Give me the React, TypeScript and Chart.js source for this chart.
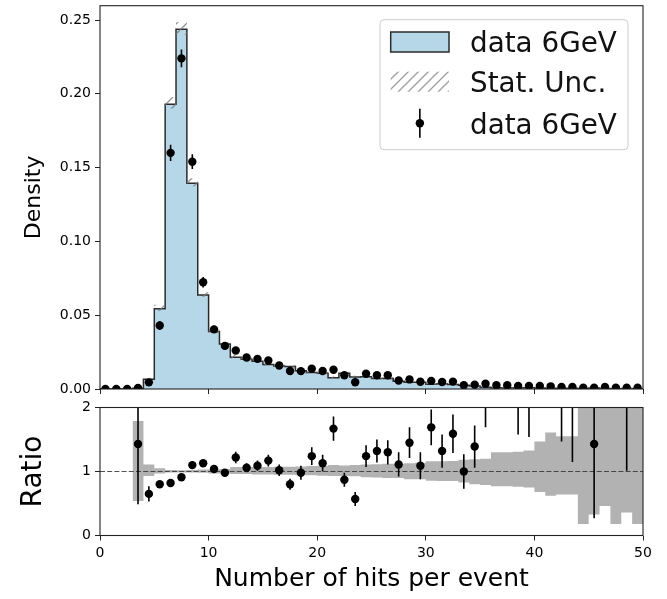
import React, { useEffect, useRef } from 'react';
import { Chart, registerables } from 'chart.js';

Chart.register(...registerables);

const FONT = "'DejaVu Sans', 'Liberation Sans', sans-serif";

// Histogram of hits per event: 50 unit-wide bins from 0 to 50 (density)
const histDensity = [
  0, 0, 0, 0.0005, 0.0066, 0.0544, 0.1929, 0.2437, 0.1394, 0.0637,
  0.039, 0.0305, 0.0215, 0.0201, 0.0188, 0.0166, 0.0155, 0.0152, 0.0123, 0.0111,
  0.0107, 0.0077, 0.0107, 0.0082, 0.0083, 0.0071, 0.0071, 0.0053, 0.0045, 0.0046,
  0.0033, 0.0036, 0.0031, 0.0025, 0.0021, 0.0012, 0.0009, 0.0009, 0.0008, 0.0008,
  0.0006, 0.0005, 0.0005, 0.0005, 0.0002, 0.0006, 0.0003, 0.0002, 0.0003, 0.0002,
];

// Data points drawn at bin centres, with their errors
const dataDensity = [
  0, 0, 0, 0.0007, 0.0045, 0.043, 0.16, 0.224, 0.154, 0.0723,
  0.0404, 0.0292, 0.0261, 0.0213, 0.0204, 0.0193, 0.0159, 0.0122, 0.0121, 0.0138,
  0.0122, 0.013, 0.0093, 0.0046, 0.0103, 0.0093, 0.0093, 0.0058, 0.0065, 0.0049,
  0.0055, 0.0047, 0.005, 0.0025, 0.0029, 0.0036, 0.0025, 0.0025, 0.002, 0.002,
  0.002, 0.0018, 0.0014, 0.0014, 0.0009, 0.0009, 0.0014, 0.0009, 0.0009, 0.0009,
];
const dataErr = [
  0, 0, 0, 0.0005, 0.0012, 0.003, 0.0055, 0.006, 0.005, 0.0035,
  0.0025, 0.002, 0.002, 0.0015, 0.0015, 0.0015, 0.0013, 0.0012, 0.0012, 0.0013,
  0.0012, 0.0013, 0.001, 0.0007, 0.0012, 0.0012, 0.0012, 0.001, 0.0011, 0.0009,
  0.0009, 0.0009, 0.0009, 0.0007, 0.0007, 0.0008, 0.0007, 0.0007, 0.0006, 0.0006,
  0.0006, 0.0006, 0.0005, 0.0005, 0.0004, 0.0004, 0.0005, 0.0004, 0.0004, 0.0004,
];

// Ratio panel: data / histogram per bin (null where undefined)
const ratioValue = [
  null, null, null, 1.43, 0.65, 0.8, 0.82, 0.91, 1.1, 1.13,
  1.04, 0.98, 1.22, 1.06, 1.09, 1.17, 1.02, 0.8, 0.98, 1.24,
  1.13, 1.67, 0.87, 0.57, 1.24, 1.32, 1.3, 1.11, 1.45, 1.09,
  1.69, 1.32, 1.59, 1.0, 1.39, 2.9, null, null, 2.6, 2.6,
  null, null, 3.0, 3.0, null, 1.43, null, null, 3.0, null,
];
const ratioErr = [
  0, 0, 0, 0.94, 0.12, 0.05, 0.05, 0.04, 0.04, 0.05,
  0.05, 0.05, 0.09, 0.07, 0.08, 0.09, 0.09, 0.085, 0.11, 0.14,
  0.13, 0.19, 0.11, 0.11, 0.17, 0.18, 0.19, 0.19, 0.24, 0.21,
  0.28, 0.26, 0.3, 0.27, 0.33, 1.21, 0, 0, 1.02, 1.06,
  0, 0, 1.53, 1.85, 0, 1.16, 0, 0, 1.99, 0,
];

// Relative statistical uncertainty of the histogram (upper / lower edge)
const uncHigh = [
  null, null, null, 1.79, 1.11, 1.05, 1.025, 1.02, 1.025, 1.03,
  1.03, 1.04, 1.07, 1.07, 1.07, 1.07, 1.075, 1.075, 1.08, 1.085,
  1.09, 1.1, 1.095, 1.1, 1.11, 1.115, 1.12, 1.12, 1.13, 1.135,
  1.16, 1.16, 1.165, 1.185, 1.19, 1.2, 1.3, 1.3, 1.31, 1.33,
  1.47, 1.61, 1.55, 1.55, 2.6, 2.6, 2.6, 2.6, 2.6, 2.6,
];
const uncLow = [
  null, null, null, 0.54, 0.93, 0.97, 0.985, 0.985, 0.985, 0.98,
  0.97, 0.97, 0.96, 0.96, 0.955, 0.955, 0.95, 0.95, 0.94, 0.94,
  0.935, 0.93, 0.93, 0.925, 0.91, 0.905, 0.9, 0.9, 0.88, 0.88,
  0.855, 0.85, 0.85, 0.83, 0.8, 0.79, 0.77, 0.77, 0.76, 0.75,
  0.68, 0.62, 0.64, 0.64, 0.18, 0.33, 0.46, 0.18, 0.36, 0.18,
];

const xTicks = [0, 10, 20, 30, 40, 50];
const densityTicks = [0, 0.05, 0.1, 0.15, 0.2, 0.25];
const ratioTicks = [0, 1, 2];
const legendLabels = ['data 6GeV', 'Stat. Unc.', 'data 6GeV'];

const HIST_FILL = 'rgb(182,215,231)';
const HIST_EDGE = '#2b2b2b';
const BAND_GREY = 'rgb(178,178,178)';

// Step outline points: left edge of each bin, closed at x = 50
function stepPoints(values: (number | null)[], from = 0) {
  const pts: { x: number; y: number | null }[] = [];
  for (let i = from; i < values.length; i++) pts.push({ x: i, y: values[i] });
  pts.push({ x: values.length, y: values[values.length - 1] });
  return pts;
}

function makeHatch(ctx: CanvasRenderingContext2D, color: string) {
  const c = document.createElement('canvas');
  c.width = 10;
  c.height = 10;
  const g = c.getContext('2d')!;
  g.strokeStyle = color;
  g.lineWidth = 1.3;
  g.beginPath();
  g.moveTo(-2, 12);
  g.lineTo(12, -2);
  g.moveTo(-2, 2);
  g.lineTo(2, -2);
  g.moveTo(8, 12);
  g.lineTo(12, 8);
  g.stroke();
  return ctx.createPattern(c, 'repeat')!;
}

const framePlugin = {
  id: 'frame',
  afterDatasetsDraw(chart: any) {
    const { ctx, chartArea: a } = chart;
    ctx.save();
    ctx.strokeStyle = '#222';
    ctx.lineWidth = 1.1;
    ctx.strokeRect(a.left, a.top, a.right - a.left, a.bottom - a.top);
    ctx.restore();
  },
};

const errorBarPlugin = {
  id: 'errorBars',
  beforeDatasetDraw(chart: any, args: any) {
    const ds = chart.data.datasets[args.index];
    if (!ds.errors) return;
    const xs = chart.scales.x;
    const ys = chart.scales.y;
    const { ctx, chartArea: a } = chart;
    ctx.save();
    ctx.beginPath();
    ctx.rect(a.left, a.top, a.right - a.left, a.bottom - a.top);
    ctx.clip();
    ctx.strokeStyle = '#000';
    ctx.lineWidth = 1.6;
    ds.data.forEach((p: any, i: number) => {
      const e = ds.errors[i];
      if (p.y == null || !e) return;
      const px = xs.getPixelForValue(p.x);
      ctx.beginPath();
      ctx.moveTo(px, ys.getPixelForValue(p.y - e));
      ctx.lineTo(px, ys.getPixelForValue(p.y + e));
      ctx.stroke();
    });
    ctx.restore();
  },
};

const hatchPlugin = {
  id: 'statHatch',
  afterDatasetDraw(chart: any, args: any) {
    const ds = chart.data.datasets[args.index];
    if (!ds.hatchBand) return;
    const xs = chart.scales.x;
    const ys = chart.scales.y;
    const { ctx, chartArea: a } = chart;
    const pattern = makeHatch(ctx, 'rgba(120,120,120,0.8)');
    ctx.save();
    ctx.beginPath();
    ctx.rect(a.left, a.top, a.right - a.left, a.bottom - a.top);
    ctx.clip();
    ctx.fillStyle = pattern;
    histDensity.forEach((h, i) => {
      const hi = uncHigh[i];
      const lo = uncLow[i];
      if (hi == null || lo == null || !h) return;
      const x0 = xs.getPixelForValue(i);
      const x1 = xs.getPixelForValue(i + 1);
      const y0 = ys.getPixelForValue(h * hi);
      const y1 = ys.getPixelForValue(h * lo);
      ctx.fillRect(x0, y0, x1 - x0, y1 - y0);
    });
    ctx.restore();
  },
};

function roundRectPath(ctx: CanvasRenderingContext2D, x: number, y: number, w: number, h: number, r: number) {
  ctx.beginPath();
  ctx.moveTo(x + r, y);
  ctx.arcTo(x + w, y, x + w, y + h, r);
  ctx.arcTo(x + w, y + h, x, y + h, r);
  ctx.arcTo(x, y + h, x, y, r);
  ctx.arcTo(x, y, x + w, y, r);
  ctx.closePath();
}

const legendPlugin = {
  id: 'hitsLegend',
  afterDraw(chart: any) {
    const { ctx, chartArea: a } = chart;
    const w = 248;
    const h = 130;
    const boxL = a.right - 15 - w;
    const boxT = a.top + 14;
    ctx.save();
    roundRectPath(ctx, boxL, boxT, w, h, 4);
    ctx.fillStyle = 'rgba(255,255,255,0.8)';
    ctx.fill();
    ctx.strokeStyle = '#cccccc';
    ctx.lineWidth = 1;
    ctx.stroke();

    const hx = boxL + 10.7;
    const hw = 58.3;
    const baselines = [boxT + 32.3, boxT + 72, boxT + 114.5];

    // histogram patch
    ctx.fillStyle = HIST_FILL;
    ctx.fillRect(hx, baselines[0] - 20, hw, 20);
    ctx.strokeStyle = HIST_EDGE;
    ctx.lineWidth = 1.5;
    ctx.strokeRect(hx, baselines[0] - 20, hw, 20);

    // hatched uncertainty patch
    ctx.fillStyle = makeHatch(ctx, 'rgba(140,140,140,0.85)');
    ctx.fillRect(hx, baselines[1] - 20, hw, 20);

    // error bar marker
    const mx = hx + hw / 2;
    const my = baselines[2] - 11;
    ctx.strokeStyle = '#000';
    ctx.lineWidth = 1.6;
    ctx.beginPath();
    ctx.moveTo(mx, my - 14.5);
    ctx.lineTo(mx, my + 14.5);
    ctx.stroke();
    ctx.fillStyle = '#000';
    ctx.beginPath();
    ctx.arc(mx, my, 4.2, 0, Math.PI * 2);
    ctx.fill();

    ctx.fillStyle = '#111';
    ctx.font = `27.8px ${FONT}`;
    ctx.textAlign = 'left';
    ctx.textBaseline = 'alphabetic';
    legendLabels.forEach((t, i) => ctx.fillText(t, boxL + 90, baselines[i]));
    ctx.restore();
  },
};

const tickFont = { family: FONT, size: 14 };
const tickGrid = {
  display: true,
  drawOnChartArea: false,
  drawTicks: true,
  tickLength: 5,
  color: '#222',
  lineWidth: 1,
};

// Fixed-width y axis whose end labels do not push the plot area inwards
const fitYAxis = (s: any) => {
  s.width = 100;
  s.paddingTop = 0;
  s.paddingBottom = 0;
};

export default function App() {
  const topRef = useRef<HTMLCanvasElement>(null);
  const botRef = useRef<HTMLCanvasElement>(null);

  useEffect(() => {
    const centers = histDensity.map((_, i) => i + 0.5);

    const top = new Chart(topRef.current!, {
      type: 'line',
      data: {
        datasets: [
          {
            label: 'data 6GeV',
            data: centers.map((c, i) => ({ x: c, y: dataDensity[i] })),
            showLine: false,
            pointRadius: 4.2,
            pointBackgroundColor: '#000',
            pointBorderColor: '#000',
            pointBorderWidth: 0,
            order: 1,
            errors: dataErr,
          } as any,
          {
            label: 'data 6GeV',
            data: stepPoints(histDensity),
            stepped: true,
            borderColor: HIST_EDGE,
            borderWidth: 1.5,
            backgroundColor: HIST_FILL,
            fill: 'origin',
            pointRadius: 0,
            order: 2,
            hatchBand: true,
          } as any,
        ],
      },
      options: {
        responsive: false,
        maintainAspectRatio: false,
        animation: false,
        devicePixelRatio: 1,
        layout: { padding: { left: 0, right: 24, top: 5.7, bottom: 0 } },
        plugins: { legend: { display: false }, tooltip: { enabled: false } },
        scales: {
          x: {
            type: 'linear',
            min: 0,
            max: 50,
            afterBuildTicks: (s: any) => { s.ticks = xTicks.map((v) => ({ value: v })); },
            afterFit: (s: any) => { s.height = 11; },
            ticks: { callback: () => '', font: tickFont },
            grid: tickGrid,
            border: { display: false },
          },
          y: {
            type: 'linear',
            min: 0,
            max: 0.2597,
            afterBuildTicks: (s: any) => { s.ticks = densityTicks.map((v) => ({ value: v })); },
            afterFit: fitYAxis,
            ticks: {
              callback: (v: any) => Number(v).toFixed(2),
              font: tickFont,
              color: '#000',
              padding: 4,
            },
            grid: tickGrid,
            border: { display: false },
            title: {
              display: true,
              text: 'Density',
              font: { family: FONT, size: 22 },
              color: '#000',
              padding: { top: 21, bottom: 0 },
            },
          },
        },
      } as any,
      plugins: [hatchPlugin, errorBarPlugin, framePlugin, legendPlugin],
    });

    const bot = new Chart(botRef.current!, {
      type: 'line',
      data: {
        datasets: [
          {
            label: 'ratio',
            data: centers.map((c, i) => ({ x: c, y: ratioValue[i] })),
            showLine: false,
            pointRadius: 4.2,
            pointBackgroundColor: '#000',
            pointBorderColor: '#000',
            pointBorderWidth: 0,
            order: 1,
            errors: ratioErr,
          } as any,
          {
            label: 'unity',
            data: [{ x: 0, y: 1 }, { x: 50, y: 1 }],
            borderColor: 'rgba(50,50,50,0.85)',
            borderWidth: 1.2,
            borderDash: [5, 2.2],
            pointRadius: 0,
            fill: false,
            order: 2,
          },
          {
            label: 'unc high',
            data: stepPoints(uncHigh, 3),
            stepped: true,
            borderColor: 'transparent',
            borderWidth: 0,
            pointRadius: 0,
            fill: false,
            order: 3,
          },
          {
            label: 'unc low',
            data: stepPoints(uncLow, 3),
            stepped: true,
            borderColor: 'transparent',
            borderWidth: 0,
            pointRadius: 0,
            backgroundColor: BAND_GREY,
            fill: '-1',
            order: 3,
          },
        ],
      },
      options: {
        responsive: false,
        maintainAspectRatio: false,
        animation: false,
        devicePixelRatio: 1,
        layout: { padding: { left: 0, right: 24, top: 7.5, bottom: 0 } },
        plugins: { legend: { display: false }, tooltip: { enabled: false } },
        scales: {
          x: {
            type: 'linear',
            min: 0,
            max: 50,
            afterBuildTicks: (s: any) => { s.ticks = xTicks.map((v) => ({ value: v })); },
            afterFit: (s: any) => { s.height = 63.5; },
            ticks: { font: tickFont, color: '#000', padding: 4, maxRotation: 0 },
            grid: tickGrid,
            border: { display: false },
            title: {
              display: true,
              text: 'Number of hits per event',
              font: { family: FONT, size: 25 },
              color: '#000',
              padding: { top: 0, bottom: 5 },
            },
          },
          y: {
            type: 'linear',
            min: 0,
            max: 2,
            afterBuildTicks: (s: any) => { s.ticks = ratioTicks.map((v) => ({ value: v })); },
            afterFit: fitYAxis,
            ticks: { callback: (v: any) => String(v), font: tickFont, color: '#000', padding: 4 },
            grid: tickGrid,
            border: { display: false },
            title: {
              display: true,
              text: 'Ratio',
              font: { family: FONT, size: 28 },
              color: '#000',
              padding: { top: 17, bottom: 0 },
            },
          },
        },
      } as any,
      plugins: [errorBarPlugin, framePlugin],
    });

    return () => {
      top.destroy();
      bot.destroy();
    };
  }, []);

  return (
    <div style={{ position: 'fixed', left: 0, top: 0, width: 667, height: 599, background: '#fff' }}>
      <canvas ref={topRef} width={667} height={400} style={{ position: 'absolute', left: 0, top: 0 }} />
      <canvas ref={botRef} width={667} height={199} style={{ position: 'absolute', left: 0, top: 400 }} />
    </div>
  );
}
